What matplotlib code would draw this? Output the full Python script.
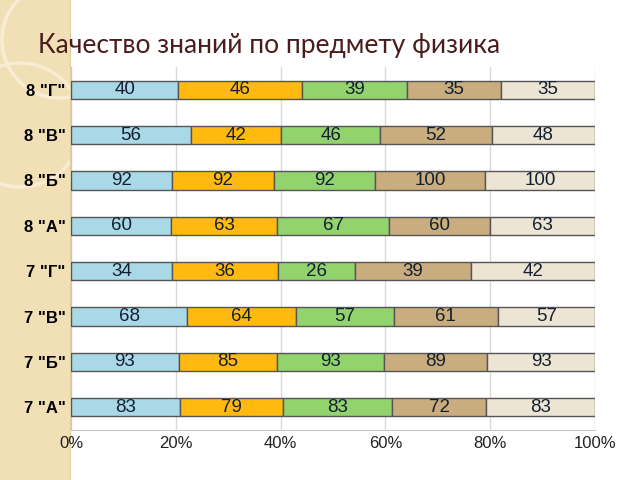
import matplotlib.pyplot as plt
from matplotlib.patches import Circle

# Classes (bottom to top, as barh draws them)
classes = ['7 "А"', '7 "Б"', '7 "В"', '7 "Г"', '8 "А"', '8 "Б"', '8 "В"', '8 "Г"']

# Five segments per bar (values as printed in the bars)
s1 = [83, 93, 68, 34, 60, 92, 56, 40]
s2 = [79, 85, 64, 36, 63, 92, 42, 46]
s3 = [83, 93, 57, 26, 67, 92, 46, 39]
s4 = [72, 89, 61, 39, 60, 100, 52, 35]
s5 = [83, 93, 57, 42, 63, 100, 48, 35]

series = [s1, s2, s3, s4, s5]
colors = ['#A9D8E6', '#FFB90F', '#92D36E', '#C9AD7E', '#EDE5D3']

fig = plt.figure(figsize=(6.4, 4.8), dpi=100)

# decorative strip on the left (its own axes, so the circles get clipped)
sax = fig.add_axes([0, 0, 70 / 640, 1], zorder=-5)
sax.set_xlim(0, 70)
sax.set_ylim(0, 480)
sax.set_facecolor('#F1DFB6')
sax.set_xticks([])
sax.set_yticks([])
for side in ['top', 'left', 'bottom']:
    sax.spines[side].set_visible(False)
sax.spines['right'].set_color('#E2CFA2')
for cx, cy, r in [(60, 440, 58), (20, 355, 62)]:
    sax.add_patch(Circle((cx, cy), r, facecolor='none', edgecolor='#F8EDD4', lw=2.5))

fig.text(38 / 640, 1 - 45 / 480, 'Качество знаний по предмету физика',
         fontsize=19, color='#4A1C1C', family='Lato', va='center', ha='left')

ax = fig.add_axes([71 / 640, 50 / 480, 524 / 640, 363 / 480])
ax.set_facecolor('none')

totals = [sum(v) for v in zip(*series)]
left = [0.0] * len(classes)
for vals, col in zip(series, colors):
    widths = [v / t for v, t in zip(vals, totals)]
    ax.barh(range(len(classes)), widths, left=left, height=0.4,
            color=col, edgecolor='#555555', linewidth=1, zorder=3)
    for i, (v, w) in enumerate(zip(vals, widths)):
        ax.text(left[i] + w / 2, i, str(v), ha='center', va='center',
                fontsize=13.5, color='#142030', family='Liberation Sans', zorder=4)
    left = [l + w for l, w in zip(left, widths)]

ax.set_xlim(0, 1)
ax.set_ylim(-0.5, len(classes) - 0.5)
ax.set_xticks([0, 0.2, 0.4, 0.6, 0.8, 1.0])
ax.set_xticklabels(['0%', '20%', '40%', '60%', '80%', '100%'],
                   fontsize=12, color='#222222', family='Liberation Sans')
ax.set_yticks(range(len(classes)))
ax.set_yticklabels(classes, fontsize=12, fontweight='bold', family='Liberation Sans')
ax.tick_params(axis='x', length=0, pad=4)
ax.tick_params(axis='y', length=0, pad=4)
ax.grid(axis='x', color='#D9D9D9', linewidth=1, zorder=0)
for side in ['top', 'right']:
    ax.spines[side].set_visible(False)
for side in ['left', 'bottom']:
    ax.spines[side].set_color('#C8C8C8')

fig.savefig('out.png', dpi=100)
